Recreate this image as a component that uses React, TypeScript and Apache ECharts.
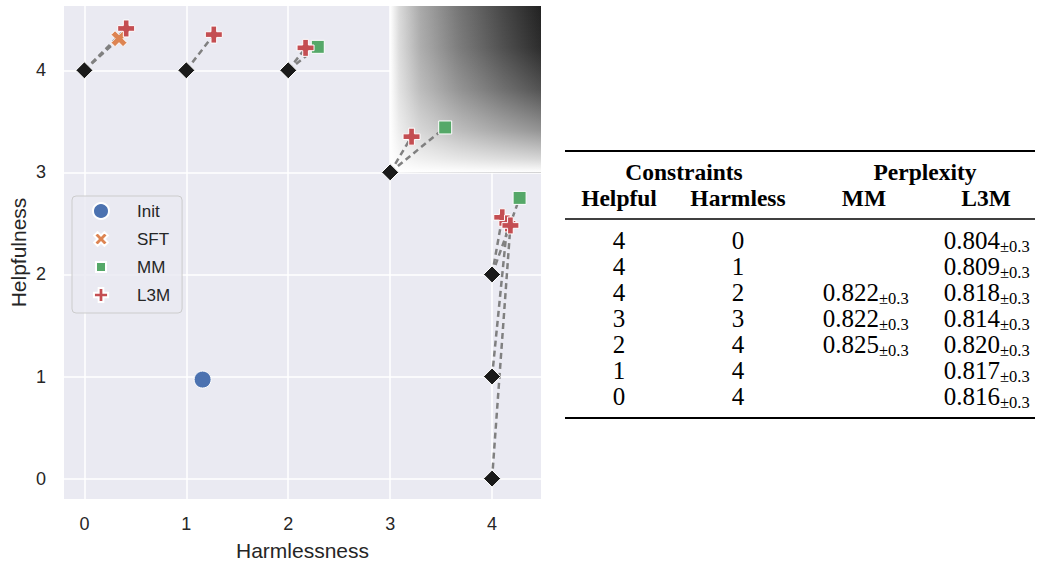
import React, { useEffect, useRef } from "react";
import * as echarts from "echarts";

// ---- data ----
const HELPFUL = [4, 4, 4, 3, 2, 1, 0];
const HARMLESS = [0, 1, 2, 3, 4, 4, 4];
const MM_PPL: (number | null)[] = [null, null, 0.822, 0.822, 0.825, null, null];
const L3M_PPL = [0.804, 0.809, 0.818, 0.814, 0.82, 0.817, 0.816];

// plotted outcomes (harmlessness, helpfulness), indexed like the constraints
const L3M_PTS: [number, number][] = [
  [0.41, 4.41], [1.27, 4.35], [2.17, 4.22], [3.21, 3.35], [4.1, 2.56], [4.15, 2.5], [4.18, 2.48],
];
const MM_PTS: ([number, number] | null)[] = [null, null, [2.29, 4.23], [3.54, 3.44], [4.27, 2.75], null, null];
const SFT_PTS: ([number, number] | null)[] = [[0.34, 4.31], null, null, null, null, null, null];
const INIT_PTS: [number, number][] = [[1.16, 0.97]];

const TICKS = [0, 1, 2, 3, 4];
const X_MIN = -0.2, X_MAX = 4.48, Y_MIN = -0.2, Y_MAX = 4.63;
const TARGET_REGION = { x0: 3, y0: 3 };

const PLUS = "path://M-1,-3L1,-3L1,-1L3,-1L3,1L1,1L1,3L-1,3L-1,1L-3,1L-3,-1L-1,-1Z";
const CROSS =
  "path://M1.414,-2.828L2.828,-1.414L1.414,0L2.828,1.414L1.414,2.828L0,1.414L-1.414,2.828L-2.828,1.414L-1.414,0L-2.828,-1.414L-1.414,-2.828L0,-1.414Z";
const PLUS_LEGEND = "path://M-3.4,-3.4M3.4,3.4M-1,-3L1,-3L1,-1L3,-1L3,1L1,1L1,3L-1,3L-1,1L-3,1L-3,-1L-1,-1Z";
const CROSS_LEGEND =
  "path://M-3.3,-3.3M3.3,3.3M1.414,-2.828L2.828,-1.414L1.414,0L2.828,1.414L1.414,2.828L0,1.414L-1.414,2.828L-2.828,1.414L-1.414,0L-2.828,-1.414L-1.414,-2.828L0,-1.414Z";
const SQUARE_LEGEND = "path://M-8,-8M8,8M-5,-5L5,-5L5,5L-5,5Z";
const TEXT = "#262626";
const SANS = "Liberation Sans, Arial, sans-serif";
const SERIF = "Liberation Serif, Times New Roman, serif";

export default function App() {
  const ref = useRef<HTMLDivElement>(null);
  useEffect(() => {
    const chart = echarts.init(ref.current!, null, { renderer: "svg" });

    const constraintPts = HARMLESS.map((h, i) => [h, HELPFUL[i]]);
    const links: any[] = [];
    constraintPts.forEach((c, i) => {
      [SFT_PTS[i], MM_PTS[i], L3M_PTS[i]].forEach((p) => {
        if (p) links.push({ coords: [c, p] });
      });
    });

    // table graphics
    const g: any[] = [];
    const tx0 = 565, tx1 = 1035;
    g.push({ type: "line", shape: { x1: tx0, y1: 151, x2: tx1, y2: 151 }, style: { stroke: "#000", lineWidth: 2 } });
    g.push({ type: "line", shape: { x1: tx0, y1: 219, x2: tx1, y2: 219 }, style: { stroke: "#000", lineWidth: 1.3 } });
    g.push({ type: "line", shape: { x1: tx0, y1: 418, x2: tx1, y2: 418 }, style: { stroke: "#000", lineWidth: 2 } });
    const head = (text: string, x: number, y: number) =>
      g.push({
        type: "text", x, y,
        style: { text, fill: "#000", font: `bold 23.5px ${SERIF}`, align: "center", verticalAlign: "middle" },
      });
    head("Constraints", 684, 172);
    head("Perplexity", 925, 172);
    head("Helpful", 619, 198);
    head("Harmless", 738, 198);
    head("MM", 864, 198);
    head("L3M", 986, 198);
    const cell = (text: string, x: number, y: number, align: string) =>
      g.push({
        type: "text", x, y,
        style: { text, fill: "#000", font: `25px ${SERIF}`, align, verticalAlign: "middle" },
      });
    const sub = (text: string, x: number, y: number) =>
      g.push({
        type: "text", x, y,
        style: { text, fill: "#000", font: `16.5px ${SERIF}`, align: "left", verticalAlign: "middle" },
      });
    HELPFUL.forEach((h, i) => {
      const y = 240 + i * 26.1;
      cell(String(h), 619, y, "center");
      cell(String(HARMLESS[i]), 738, y, "center");
      const mm = MM_PPL[i];
      if (mm != null) {
        cell(mm.toFixed(3), 879, y, "right");
        sub("±0.3", 879, y + 6);
      }
      cell(L3M_PPL[i].toFixed(3), 1000, y, "right");
      sub("±0.3", 1000, y + 6);
    });

    const hGrad = new echarts.graphic.LinearGradient(0, 0, 1, 0, [
      { offset: 0, color: "#ffffff" },
      { offset: 0.06, color: "#dadada" },
      { offset: 0.2, color: "#aaaaaa" },
      { offset: 0.45, color: "#777777" },
      { offset: 0.75, color: "#474747" },
      { offset: 1, color: "#222222" },
    ]);
    const vGrad = new echarts.graphic.LinearGradient(0, 0, 0, 1, [
      { offset: 0, color: "rgba(255,255,255,0)" },
      { offset: 0.25, color: "rgba(255,255,255,0.05)" },
      { offset: 0.5, color: "rgba(255,255,255,0.22)" },
      { offset: 0.75, color: "rgba(255,255,255,0.52)" },
      { offset: 0.92, color: "rgba(255,255,255,0.82)" },
      { offset: 1, color: "rgba(255,255,255,1)" },
    ]);

    const baseStyle = { borderColor: "#ffffff", borderWidth: 1, opacity: 1 };
    const scatterBase = { type: "scatter", emphasis: { disabled: true }, z: 5 };

    chart.setOption({
      animation: false,
      backgroundColor: "#ffffff",
      textStyle: { fontFamily: SANS },
      grid: {
        left: 64, top: 6, width: 477, height: 493, backgroundColor: "#EAEAF2", show: true, borderWidth: 0,
        outerBoundsMode: "none", containLabel: false,
      },
      xAxis: {
        type: "value", min: X_MIN, max: X_MAX,
        axisLine: { show: false }, axisTick: { show: false }, splitLine: { show: false },
        axisLabel: { customValues: TICKS, color: TEXT, fontSize: 18, margin: 16, fontFamily: SANS },
        name: "Harmlessness", nameLocation: "middle", nameGap: 41,
        nameTextStyle: { color: TEXT, fontSize: 21, fontFamily: SANS },
      },
      yAxis: {
        type: "value", min: Y_MIN, max: Y_MAX,
        axisLine: { show: false }, axisTick: { show: false }, splitLine: { show: false },
        axisLabel: { customValues: TICKS, color: TEXT, fontSize: 18, margin: 18, fontFamily: SANS },
        name: "Helpfulness", nameLocation: "middle", nameGap: 35,
        nameTextStyle: { color: TEXT, fontSize: 21, fontFamily: SANS },
      },
      legend: {
        orient: "vertical", left: 72, top: 196,
        data: [
          { name: "Init" },
          { name: "SFT", icon: CROSS_LEGEND },
          { name: "MM", icon: SQUARE_LEGEND },
          { name: "L3M", icon: PLUS_LEGEND },
        ],
        itemWidth: 30, itemHeight: 16, itemGap: 10,
        padding: [6, 12, 9, 20],
        backgroundColor: "rgba(234,234,242,0.85)",
        borderColor: "#cccccc", borderWidth: 1, borderRadius: 4,
        textStyle: { color: TEXT, fontSize: 17, fontFamily: SANS, padding: [0, 0, 0, 16] },
      },
      graphic: g,
      series: [
        {
          type: "line", data: [], silent: true, z: 1,
          markLine: {
            z: 1,
            silent: true, symbol: ["none", "none"], label: { show: false },
            lineStyle: { color: "#ffffff", width: 1.5, type: "solid" },
            emphasis: { disabled: true },
            data: [...TICKS.map((t) => ({ xAxis: t })), ...TICKS.map((t) => ({ yAxis: t }))],
          },
        },
        {
          type: "scatter", data: [], silent: true, z: 2,
          markArea: {
            z: 2,
            silent: true,
            data: [[{ xAxis: TARGET_REGION.x0, yAxis: TARGET_REGION.y0, itemStyle: { color: hGrad, opacity: 1 } }, { xAxis: X_MAX, yAxis: Y_MAX }]],
          },
        },
        {
          type: "scatter", data: [], silent: true, z: 3,
          markArea: {
            z: 3,
            silent: true,
            data: [[{ xAxis: TARGET_REGION.x0, yAxis: TARGET_REGION.y0, itemStyle: { color: vGrad, opacity: 1 } }, { xAxis: X_MAX, yAxis: Y_MAX }]],
          },
        },
        {
          type: "lines", coordinateSystem: "cartesian2d", z: 4, silent: true,
          lineStyle: { color: "#808080", width: 2.5, type: [6, 4], opacity: 1, curveness: 0 },
          data: links,
        },
        {
          ...scatterBase, name: "constraint", data: constraintPts, symbol: "diamond", symbolSize: 17,
          itemStyle: { color: "#1a1a1a", borderColor: "#ffffff", borderWidth: 1, opacity: 1 }, z: 6,
        },
        { ...scatterBase, name: "Init", data: INIT_PTS, symbol: "circle", symbolSize: 17, itemStyle: { ...baseStyle, color: "#4C72B0" } },
        { ...scatterBase, name: "SFT", data: SFT_PTS.filter(Boolean), symbol: CROSS, symbolSize: 16, itemStyle: { ...baseStyle, color: "#DD8452" } },
        { ...scatterBase, name: "MM", data: MM_PTS.filter(Boolean), symbol: "rect", symbolSize: 13, itemStyle: { ...baseStyle, color: "#55A868" } },
        { ...scatterBase, name: "L3M", data: L3M_PTS, symbol: PLUS, symbolSize: 17, itemStyle: { ...baseStyle, color: "#C44E52" }, z: 7 },
      ],
    });
    return () => chart.dispose();
  }, []);
  return <div ref={ref} style={{ position: "fixed", left: 0, top: 0, width: 1037, height: 561 }} />;
}
